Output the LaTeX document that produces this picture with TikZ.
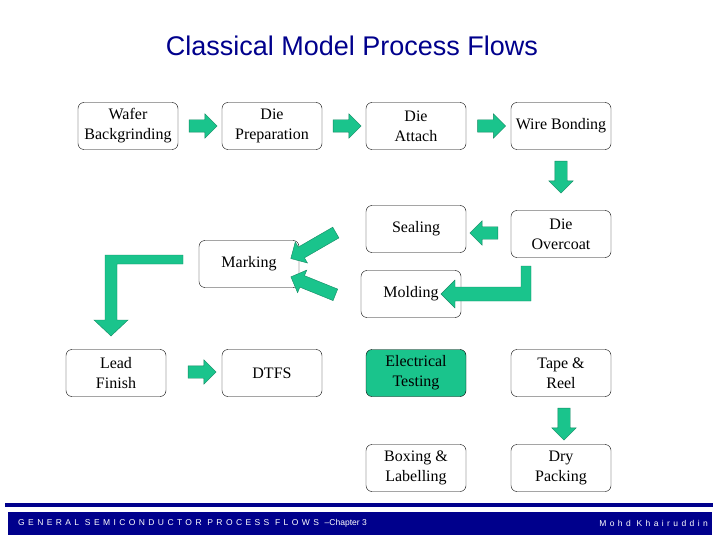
\documentclass[tikz,border=0pt]{standalone}
\usepackage{fontspec}
\setmainfont{Liberation Serif}
\newfontfamily\arialfont{Liberation Sans}
\usetikzlibrary{shapes.arrows,calc}
\definecolor{flowgreen}{RGB}{26,196,140}
\definecolor{navyband}{RGB}{0,0,140}
\begin{document}
\begin{tikzpicture}[x=1pt, y=-1pt,
    step box/.style={draw, rounded corners=6pt, minimum width=100pt, minimum height=47pt,
      align=center, font=\fontsize{16}{20}\selectfont, inner sep=1pt},
    blk arrow/.style={single arrow, fill=flowgreen, draw=flowgreen!70!black, line width=0.4pt,
      minimum height=#1, single arrow head extend=6pt, inner sep=6pt, anchor=center},
    blk arrow/.default=28pt]

    \useasboundingbox (0,0) rectangle (720,540);

    % Title
    \node[font=\arialfont\fontsize{27}{30}\selectfont, text=navyband] (title) at (352,46) {Classical Model Process Flows};

    % Process steps
    \node[step box] (wafer) at (128,126) {Wafer\\Backgrinding};
    \node[step box] (prep) at (272,126) {Die\\Preparation};
    \node[step box] (attach) at (416,126) {Die\\Attach};
    \node[step box] (bond) at (561,126) {Wire Bonding};
    \node[step box] (seal) at (416,229) {Sealing};
    \node[step box] (overcoat) at (561,234) {Die\\Overcoat};
    \node[step box] (mark) at (249,264) {Marking};
    \node[step box] (mold) at (411,294) {Molding};
    \node[step box] (lead) at (116,373) {Lead\\Finish};
    \node[step box] (dtfs) at (272,373) {DTFS};
    \node[step box, fill=flowgreen] (etest) at (416,373) {Electrical\\Testing};
    \node[step box] (tape) at (561,373) {Tape \&\\Reel};
    \node[step box] (boxing) at (416,468) {Boxing \&\\Labelling};
    \node[step box] (dry) at (561,468) {Dry\\Packing};

    % Straight block arrows
    \node[blk arrow] (a1) at ($(wafer.east)!0.5!(prep.west)$) {};
    \node[blk arrow] (a2) at ($(prep.east)!0.5!(attach.west)$) {};
    \node[blk arrow] (a3) at ($(attach.east)!0.5!(bond.west)$) {};
    \node[blk arrow=32pt, shape border rotate=270] (a4) at (561,174) {};
    \node[blk arrow, shape border rotate=180] (a5) at (487,233) {};
    \node[blk arrow=52pt, shape border rotate=180, rotate=30] (a6) at (316,244) {};
    \node[blk arrow=48pt, shape border rotate=180, rotate=-22] (a7) at (316,287) {};
    \node[blk arrow] (a8) at (199,372) {};
    \node[blk arrow=32pt, shape border rotate=270] (a9) at (564,421) {};

    % Bent block arrows
    \draw[fill=flowgreen, draw=flowgreen!70!black, line width=0.4pt]
      (531,266) -- (531,301) -- (455,301) -- (455,308) -- (441,294) -- (455,280) -- (455,287) -- (521,287) -- (521,266) -- cycle;
    \draw[fill=flowgreen, draw=flowgreen!70!black, line width=0.4pt]
      (183,255) -- (183,264) -- (117,264) -- (117,320) -- (128,320) -- (111,336) -- (94,320) -- (105,320) -- (105,255) -- cycle;

    % Footer
    \fill[navyband] (5,503) rectangle (713,507);
    \fill[navyband] (8,512) rectangle (712,535);
    \node[anchor=west, text=white, font=\arialfont\fontsize{8.5}{10}\selectfont, inner sep=0pt] (foot) at (18,523)
      {\addfontfeature{LetterSpace=40}GENERAL SEMICONDUCTOR PROCESS FLOWS \textendash{}\addfontfeature{LetterSpace=0} Chapter 3};
    \node[anchor=east, text=white, font=\arialfont\fontsize{8.5}{10}\selectfont, inner sep=0pt] (author) at (708,523)
      {\addfontfeature{LetterSpace=40}Mohd Khairuddin};

\end{tikzpicture}
\end{document}
